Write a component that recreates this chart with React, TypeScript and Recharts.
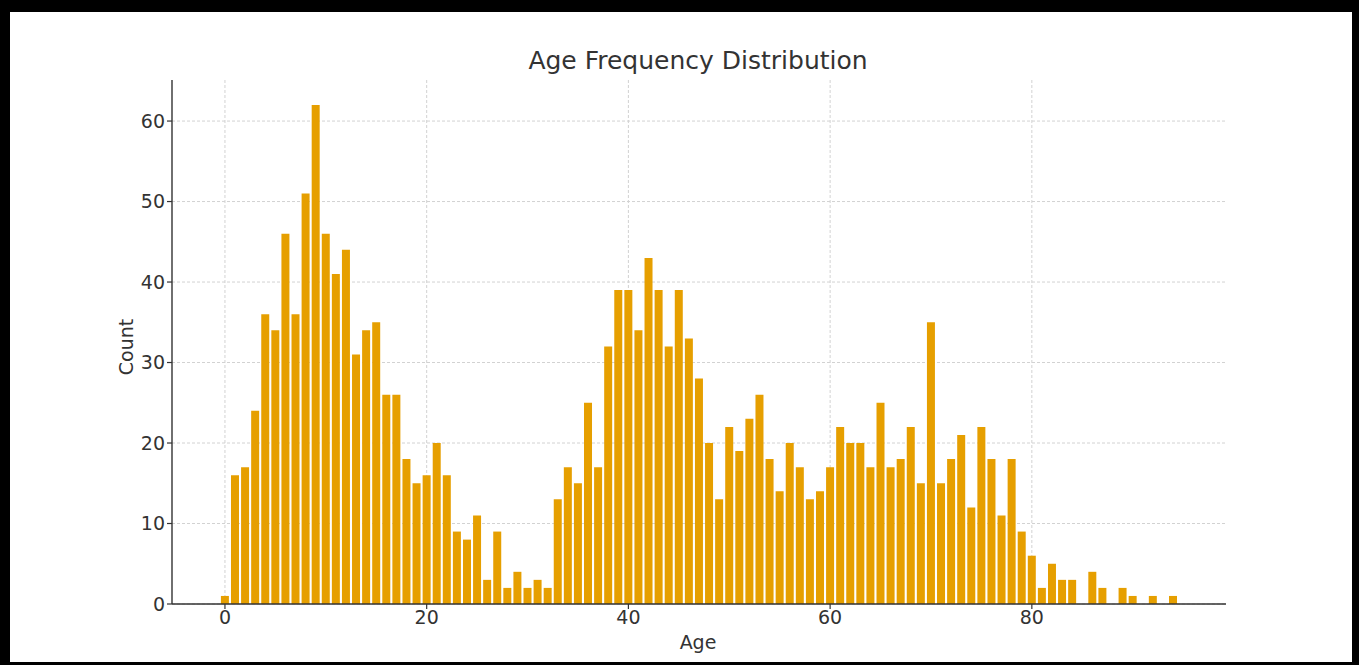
import React from 'react';
import { BarChart, Bar, XAxis, YAxis, CartesianGrid } from 'recharts';

const ages = [
  0, 1, 2, 3, 4, 5, 6, 7, 8, 9, 10, 11, 12, 13, 14, 15, 16, 17, 18, 19,
  20, 21, 22, 23, 24, 25, 26, 27, 28, 29, 30, 31, 32, 33, 34, 35, 36, 37, 38, 39,
  40, 41, 42, 43, 44, 45, 46, 47, 48, 49, 50, 51, 52, 53, 54, 55, 56, 57, 58, 59,
  60, 61, 62, 63, 64, 65, 66, 67, 68, 69, 70, 71, 72, 73, 74, 75, 76, 77, 78, 79,
  80, 81, 82, 83, 84, 85, 86, 87, 88, 89, 90, 91, 92, 93, 94,
];

const counts = [
  1, 16, 17, 24, 36, 34, 46, 36, 51, 62, 46, 41, 44, 31, 34, 35, 26, 26, 18, 15,
  16, 20, 16, 9, 8, 11, 3, 9, 2, 4, 2, 3, 2, 13, 17, 15, 25, 17, 32, 39,
  39, 34, 43, 39, 32, 39, 33, 28, 20, 13, 22, 19, 23, 26, 18, 14, 20, 17, 13, 14,
  17, 22, 20, 20, 17, 25, 17, 18, 22, 15, 35, 15, 18, 21, 12, 22, 18, 11, 18, 9,
  6, 2, 5, 3, 3, 0, 4, 2, 0, 2, 1, 0, 1, 0, 1,
];

const xTicks = [0, 20, 40, 60, 80];
const yTicks = [0, 10, 20, 30, 40, 50, 60];

const title = 'Age Frequency Distribution';
const xLabel = 'Age';
const yLabel = 'Count';

const data = ages.map((age, i) => ({ age, count: counts[i] }));

const FONT = '"DejaVu Sans", sans-serif';
const TEXT = '#333333';

export default function App() {
  const tickStyle = { fill: TEXT, fontSize: 19, fontFamily: FONT };
  return (
    <div style={{ position: 'absolute', left: 0, top: 0, width: 1359, height: 665, background: '#000' }}>
      <div style={{ position: 'absolute', left: 10, top: 12, width: 1342, height: 650, background: '#fff' }} />
      <div style={{ position: 'absolute', left: 0, top: 0 }}>
        <BarChart
          width={1359}
          height={665}
          data={data}
          margin={{ top: 80, right: 133, left: 112, bottom: 31 }}
        >
          <CartesianGrid
            stroke="#d2d2d2"
            strokeDasharray="3 2"
            strokeWidth={1}
            horizontalValues={yTicks}
            verticalValues={xTicks}
          />
          <XAxis
            dataKey="age"
            type="number"
            domain={[-5.25, 99.25]}
            ticks={xTicks}
            allowDataOverflow
            height={30}
            tick={tickStyle}
            tickSize={5}
            tickMargin={2}
            axisLine={{ stroke: '#333', strokeWidth: 1.4 }}
            tickLine={{ stroke: '#333', strokeWidth: 1.2 }}
          />
          <YAxis
            type="number"
            domain={[0, 65.1]}
            ticks={yTicks}
            allowDataOverflow
            width={60}
            tick={tickStyle}
            tickSize={5}
            tickMargin={2}
            axisLine={{ stroke: '#333', strokeWidth: 1.4 }}
            tickLine={{ stroke: '#333', strokeWidth: 1.2 }}
          />
          <Bar dataKey="count" fill="#E69F00" barSize={8} isAnimationActive={false} />
        </BarChart>
      </div>
      <svg
        width={1359}
        height={665}
        style={{ position: 'absolute', left: 0, top: 0, pointerEvents: 'none' }}
      >
        <text x={698} y={69} textAnchor="middle" fontFamily={FONT} fontSize={25} fill={TEXT}>
          {title}
        </text>
        <text x={698} y={649} textAnchor="middle" fontFamily={FONT} fontSize={19} fill={TEXT}>
          {xLabel}
        </text>
        <text
          x={0}
          y={0}
          transform="translate(133 347) rotate(-90)"
          textAnchor="middle"
          fontFamily={FONT}
          fontSize={19}
          fill={TEXT}
        >
          {yLabel}
        </text>
      </svg>
    </div>
  );
}
